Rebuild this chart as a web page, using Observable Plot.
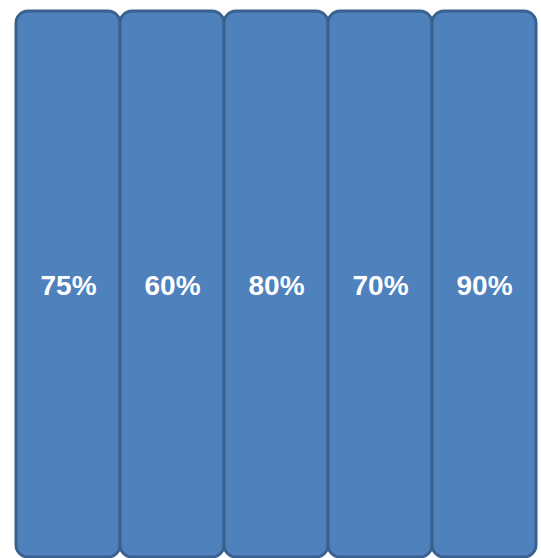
<!DOCTYPE html>
<html>
<head>
<meta charset="utf-8">
<script src="https://cdn.jsdelivr.net/npm/d3@7"></script>
<script src="https://cdn.jsdelivr.net/npm/@observablehq/plot@0.6"></script>
<style>
  html, body { margin: 0; padding: 0; background: #ffffff; }
  #chart svg { display: block; }
</style>
</head>
<body>
<div id="chart"></div>
<script>
const categories = ["A", "B", "C", "D", "E"];
const values = [75, 60, 80, 70, 90];
const labels = ["75%", "60%", "80%", "70%", "90%"];

const data = categories.map((c, i) => ({ cat: c, value: values[i], label: labels[i] }));

const chart = Plot.plot({
  width: 541,
  height: 558,
  marginLeft: 14,
  marginRight: 3,
  marginTop: 11,
  marginBottom: 1,
  style: { background: "#ffffff" },
  x: { type: "band", domain: categories, padding: 0, axis: null },
  y: { domain: [0, 1], axis: null },
  marks: [
    Plot.barY(data, {
      x: "cat",
      y1: 0,
      y2: 1,
      fill: "#4f81bd",
      stroke: "#3b6191",
      strokeWidth: 3,
      rx: 12,
      inset: 0
    }),
    Plot.text(data, {
      x: "cat",
      y: 0.5,
      text: "label",
      fill: "#ffffff",
      fontSize: 28,
      fontWeight: "bold",
      fontFamily: "Liberation Sans, Arial, sans-serif",
      dy: 2
    })
  ]
});
document.getElementById("chart").appendChild(chart);
</script>
</body>
</html>
